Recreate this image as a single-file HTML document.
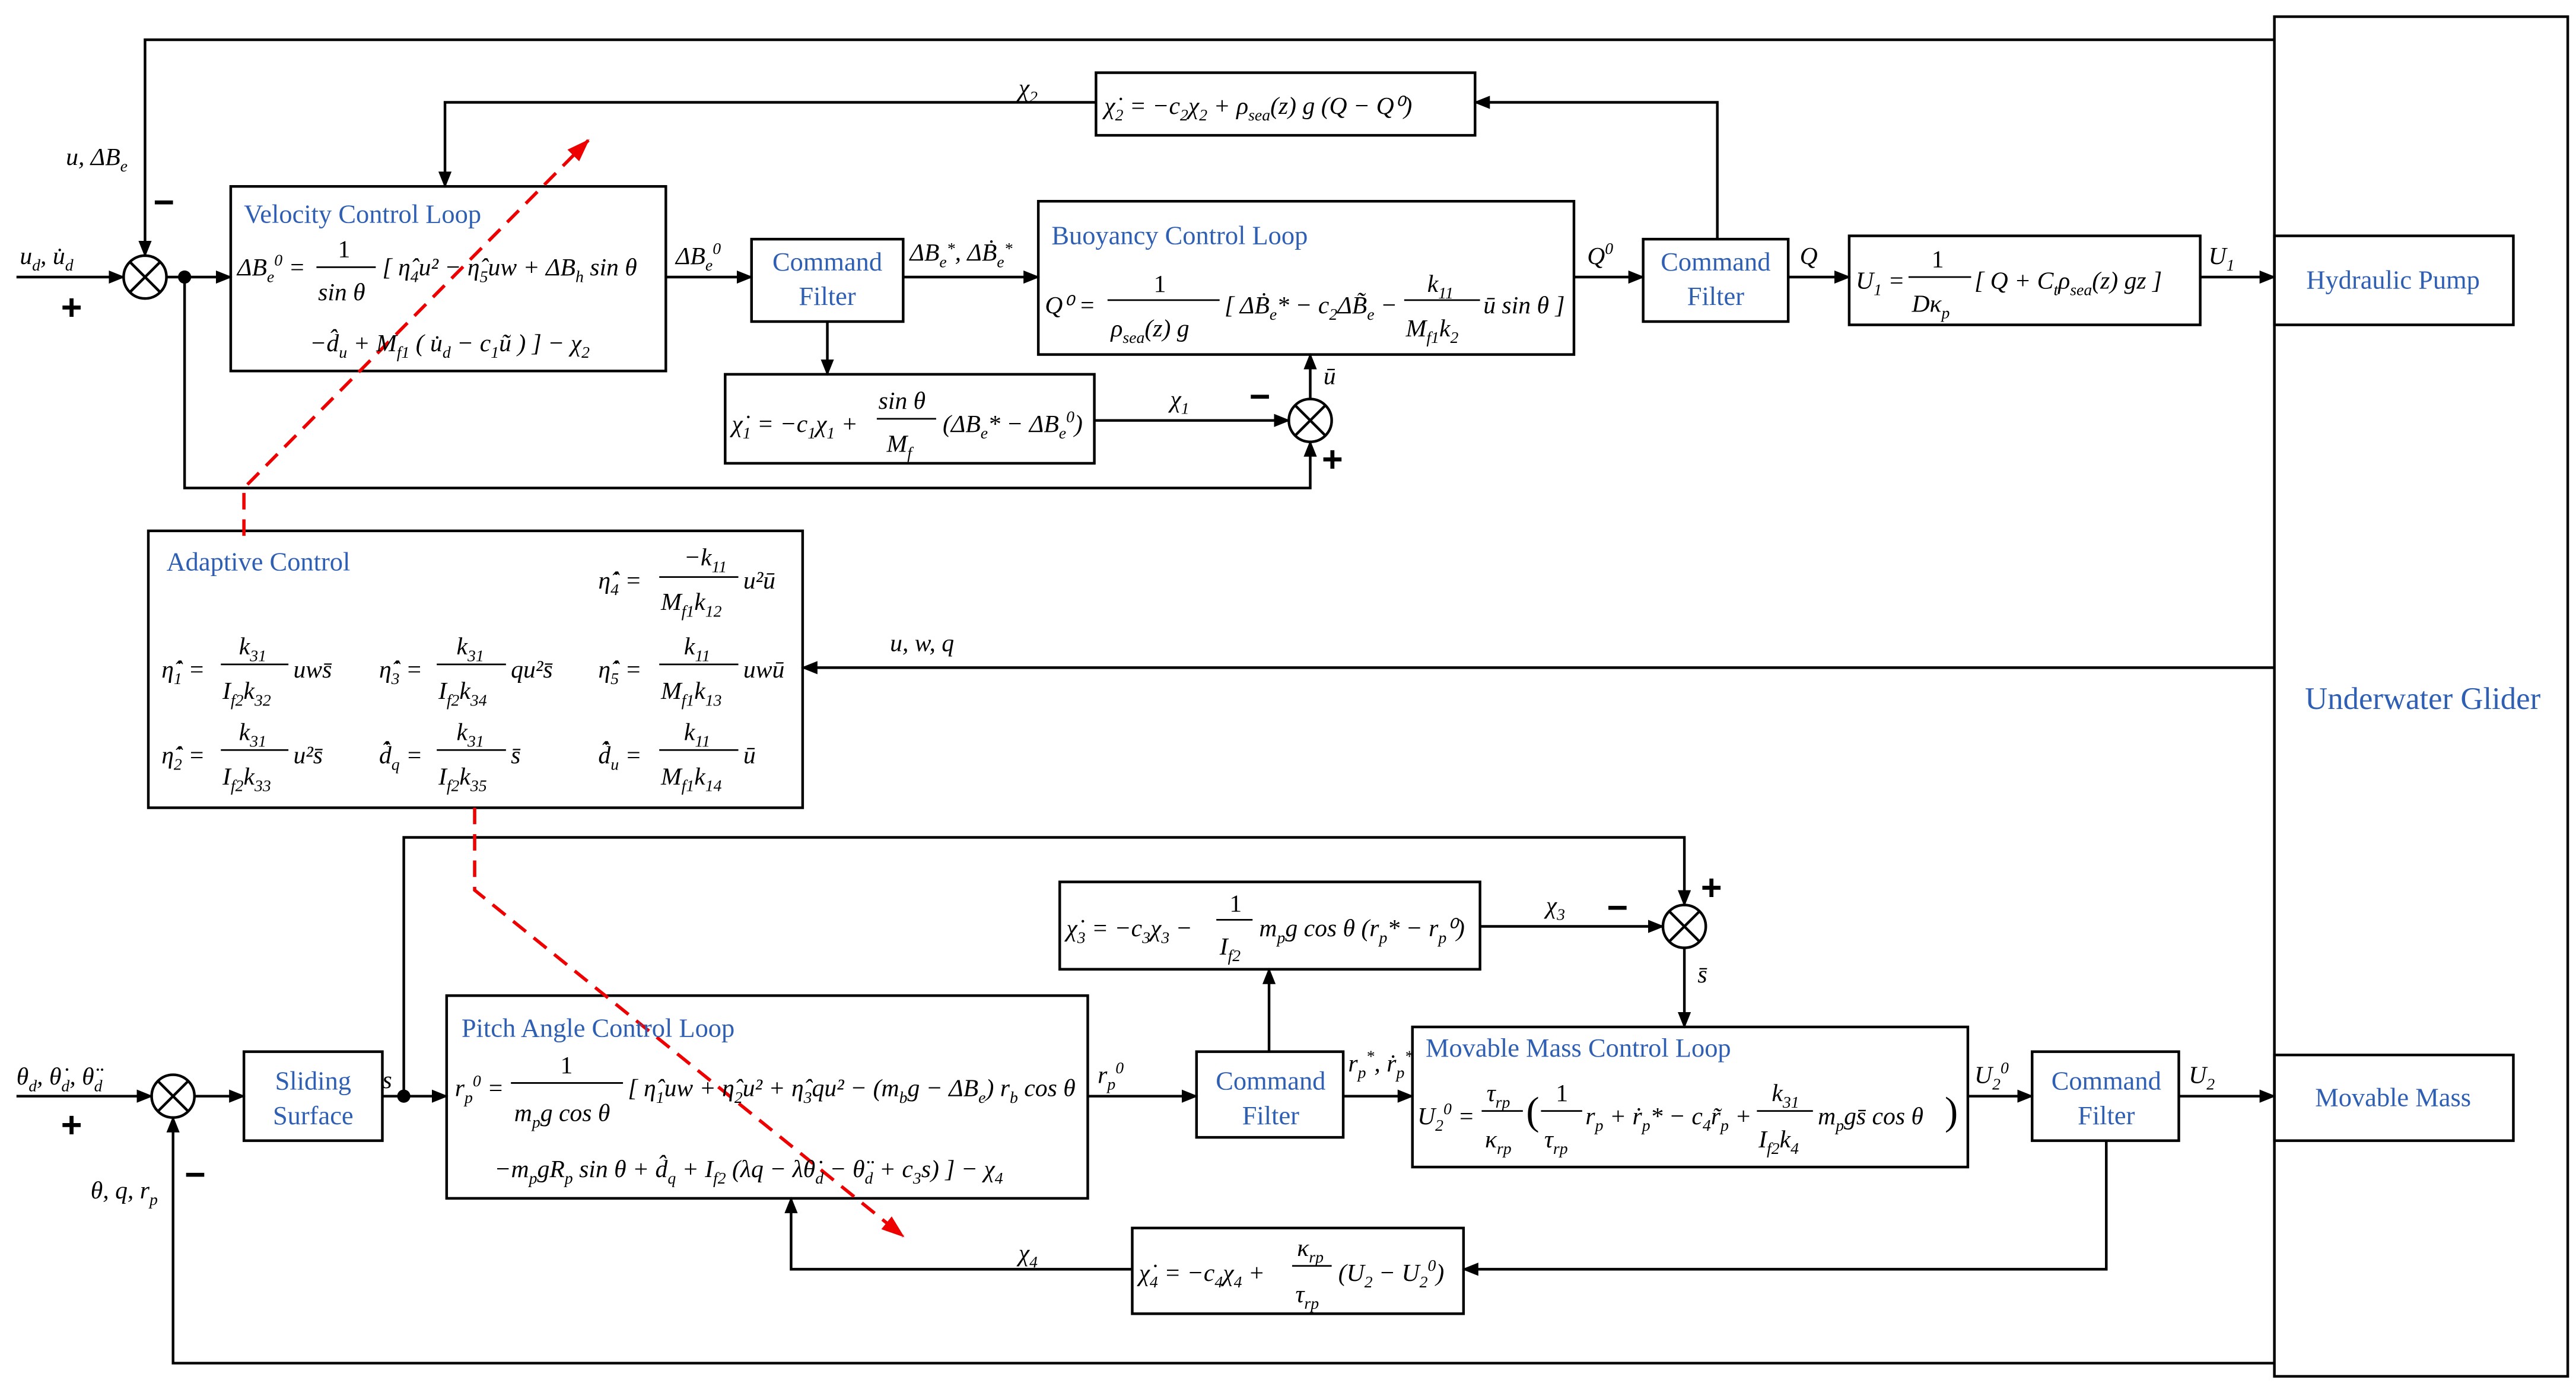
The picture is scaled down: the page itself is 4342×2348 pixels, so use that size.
<!DOCTYPE html>
<html><head><meta charset="utf-8"><style>
html,body{margin:0;padding:0;background:#fff;}
svg{display:block}
text{font-family:"Liberation Serif",serif;font-size:15px;fill:#000}
.b{fill:#2f5fb3;font-size:16px}
.i{font-style:italic}
.s{font-size:10px}
</style></head><body>
<svg width="4342" height="2348" viewBox="0 0 1563 845" xmlns="http://www.w3.org/2000/svg">
<defs><marker id="a" markerWidth="10" markerHeight="8" refX="9" refY="4" orient="auto" markerUnits="userSpaceOnUse"><path d="M0,0L10,4L0,8z" fill="#000"/></marker>
<marker id="r" markerWidth="14" markerHeight="10" refX="13" refY="5" orient="auto" markerUnits="userSpaceOnUse"><path d="M0,0L14,5L0,10z" fill="#e00"/></marker></defs>
<g fill="none" stroke="#000" stroke-width="1.6">
<!-- boxes -->
<rect x="1380" y="10" width="178" height="825"/>
<rect x="1380" y="143" width="145" height="54"/>
<rect x="1380" y="640" width="145" height="52"/>
<rect x="140" y="113" width="264" height="112"/>
<rect x="456" y="145" width="92" height="50"/>
<rect x="630" y="122" width="325" height="93"/>
<rect x="440" y="227" width="224" height="54"/>
<rect x="997" y="145" width="88" height="50"/>
<rect x="1122" y="143" width="213" height="54"/>
<rect x="665" y="44" width="230" height="38"/>
<rect x="90" y="322" width="397" height="168"/>
<rect x="643" y="535" width="255" height="53"/>
<rect x="148" y="638" width="84" height="54"/>
<rect x="271" y="604" width="389" height="123"/>
<rect x="726" y="638" width="89" height="52"/>
<rect x="857" y="623" width="337" height="85"/>
<rect x="1233" y="638" width="89" height="54"/>
<rect x="687" y="745" width="201" height="52"/>
<!-- sums -->
<circle cx="88" cy="168" r="13"/><path d="M79,159L97,177M97,159L79,177"/>
<circle cx="795" cy="255" r="13"/><path d="M786,246L804,264M804,246L786,264"/>
<circle cx="1022" cy="562" r="13"/><path d="M1013,553L1031,571M1031,553L1013,571"/>
<circle cx="105" cy="665" r="13"/><path d="M96,656L114,674M114,656L96,674"/>
<!-- top lines -->
<path d="M1380,24H88V155" marker-end="url(#a)"/>
<path d="M10,168H75" marker-end="url(#a)"/>
<path d="M101,168H140" marker-end="url(#a)"/>
<path d="M112,168V296H795V268" marker-end="url(#a)"/>
<path d="M404,168H456" marker-end="url(#a)"/>
<path d="M548,168H630" marker-end="url(#a)"/>
<path d="M502,195V227" marker-end="url(#a)"/>
<path d="M664,255H782" marker-end="url(#a)"/>
<path d="M795,242V215" marker-end="url(#a)"/>
<path d="M955,168H997" marker-end="url(#a)"/>
<path d="M1085,168H1122" marker-end="url(#a)"/>
<path d="M1335,168H1380" marker-end="url(#a)"/>
<path d="M1042,145V62H895" marker-end="url(#a)"/>
<path d="M665,62H270V113" marker-end="url(#a)"/>
<path d="M1380,405H487" marker-end="url(#a)"/>
<!-- bottom lines -->
<path d="M245,665V508H1022V549" marker-end="url(#a)"/>
<path d="M898,562H1009" marker-end="url(#a)"/>
<path d="M1022,575V623" marker-end="url(#a)"/>
<path d="M770,638V588" marker-end="url(#a)"/>
<path d="M10,665H92" marker-end="url(#a)"/>
<path d="M118,665H148" marker-end="url(#a)"/>
<path d="M232,665H271" marker-end="url(#a)"/>
<path d="M660,665H726" marker-end="url(#a)"/>
<path d="M815,665H857" marker-end="url(#a)"/>
<path d="M1194,665H1233" marker-end="url(#a)"/>
<path d="M1322,665H1380" marker-end="url(#a)"/>
<path d="M1278,692V770H888" marker-end="url(#a)"/>
<path d="M687,770H480V727" marker-end="url(#a)"/>
<path d="M1380,827H105V678" marker-end="url(#a)"/>
</g>
<circle cx="112" cy="168" r="4"/><circle cx="245" cy="665" r="4"/>
<g fill="none" stroke="#e00" stroke-width="2" stroke-dasharray="10,6">
<path d="M148,325V296L357,85" marker-end="url(#r)"/>
<path d="M288,490V540L548,750" marker-end="url(#r)"/>
</g>
<!-- signs -->
<g font-weight="bold" font-family="Liberation Sans,sans-serif">
<text x="93" y="130" style="font-size:22px;font-family:Liberation Sans">−</text>
<text x="37" y="194" style="font-size:22px;font-family:Liberation Sans">+</text>
<text x="758" y="248" style="font-size:22px;font-family:Liberation Sans">−</text>
<text x="802" y="286" style="font-size:22px;font-family:Liberation Sans">+</text>
<text x="1032" y="546" style="font-size:22px;font-family:Liberation Sans">+</text>
<text x="975" y="558" style="font-size:22px;font-family:Liberation Sans">−</text>
<text x="37" y="690" style="font-size:22px;font-family:Liberation Sans">+</text>
<text x="112" y="720" style="font-size:22px;font-family:Liberation Sans">−</text>
</g>
<!-- blue labels -->
<text class="b" x="1470" y="430" text-anchor="middle" style="font-size:19px">Underwater Glider</text>
<text class="b" x="1452" y="175" text-anchor="middle">Hydraulic Pump</text>
<text class="b" x="1452" y="671" text-anchor="middle">Movable Mass</text>
<text class="b" x="148" y="135">Velocity Control Loop</text>
<text class="b" x="502" y="164" text-anchor="middle">Command</text><text class="b" x="502" y="185" text-anchor="middle">Filter</text>
<text class="b" x="638" y="148">Buoyancy Control Loop</text>
<text class="b" x="1041" y="164" text-anchor="middle">Command</text><text class="b" x="1041" y="185" text-anchor="middle">Filter</text>
<text class="b" x="101" y="346">Adaptive Control</text>
<text class="b" x="190" y="661" text-anchor="middle">Sliding</text><text class="b" x="190" y="682" text-anchor="middle">Surface</text>
<text class="b" x="280" y="629">Pitch Angle Control Loop</text>
<text class="b" x="771" y="661" text-anchor="middle">Command</text><text class="b" x="771" y="682" text-anchor="middle">Filter</text>
<text class="b" x="865" y="641">Movable Mass Control Loop</text>
<text class="b" x="1278" y="661" text-anchor="middle">Command</text><text class="b" x="1278" y="682" text-anchor="middle">Filter</text>
<!-- signal labels -->
<text class="i" x="40" y="100">u, ΔB<tspan class="s" dy="4">e</tspan></text>
<text class="i" x="12" y="160">u<tspan class="s" dy="4">d</tspan><tspan dy="-4">, u̇</tspan><tspan class="s" dy="4">d</tspan></text>
<text class="i" x="410" y="160">ΔB<tspan class="s" dy="4">e</tspan><tspan class="s" dy="-10">0</tspan></text>
<text class="i" x="552" y="158">ΔB<tspan class="s" dy="4">e</tspan><tspan class="s" dy="-8">*</tspan><tspan dy="4">, ΔḂ</tspan><tspan class="s" dy="4">e</tspan><tspan class="s" dy="-8">*</tspan></text>
<text class="i" x="710" y="247">χ<tspan class="s" dy="4">1</tspan></text>
<text class="i" x="803" y="233">ū</text>
<text class="i" x="618" y="58">χ<tspan class="s" dy="4">2</tspan></text>
<text class="i" x="963" y="160">Q<tspan class="s" dy="-6">0</tspan></text>
<text class="i" x="1092" y="160">Q</text>
<text class="i" x="1340" y="160">U<tspan class="s" dy="4">1</tspan></text>
<text class="i" x="540" y="395">u, w, q</text>
<text class="i" x="938" y="554">χ<tspan class="s" dy="4">3</tspan></text>
<text class="i" x="1030" y="596">s̄</text>
<text class="i" x="10" y="658">θ<tspan class="s" dy="4">d</tspan><tspan dy="-4">, θ̇</tspan><tspan class="s" dy="4">d</tspan><tspan dy="-4">, θ̈</tspan><tspan class="s" dy="4">d</tspan></text>
<text class="i" x="232" y="660">s</text>
<text class="i" x="666" y="657">r<tspan class="s" dy="4">p</tspan><tspan class="s" dy="-10">0</tspan></text>
<text class="i" x="818" y="650">r<tspan class="s" dy="4">p</tspan><tspan class="s" dy="-10">*</tspan><tspan dy="6">, ṙ</tspan><tspan class="s" dy="4">p</tspan><tspan class="s" dy="-10">*</tspan></text>
<text class="i" x="1198" y="657">U<tspan class="s" dy="4">2</tspan><tspan class="s" dy="-10">0</tspan></text>
<text class="i" x="1328" y="657">U<tspan class="s" dy="4">2</tspan></text>
<text class="i" x="618" y="765">χ<tspan class="s" dy="4">4</tspan></text>
<text class="i" x="55" y="727">θ, q, r<tspan class="s" dy="4">p</tspan></text>
<!-- formulas -->
<text class="i" x="144" y="167">ΔB<tspan class="s" dy="4">e</tspan><tspan class="s" dy="-10">0</tspan><tspan dy="6"> = </tspan></text>
<text x="205" y="156">1</text><path d="M192,162H228" stroke="#000"/><text class="i" x="193" y="182">sin θ</text>
<text class="i" x="232" y="167">[ η̂<tspan class="s" dy="4">4</tspan><tspan dy="-4">u² − η̂</tspan><tspan class="s" dy="4">5</tspan><tspan dy="-4">uw + ΔB</tspan><tspan class="s" dy="4">h</tspan><tspan dy="-4"> sin θ</tspan></text>
<text class="i" x="188" y="213">−d̂<tspan class="s" dy="4">u</tspan><tspan dy="-4"> + M</tspan><tspan class="s" dy="4">f1</tspan><tspan dy="-4"> ( u̇</tspan><tspan class="s" dy="4">d</tspan><tspan dy="-4"> − c</tspan><tspan class="s" dy="4">1</tspan><tspan dy="-4">ũ ) ] − χ</tspan><tspan class="s" dy="4">2</tspan></text>
<text class="i" x="670" y="69">χ̇<tspan class="s" dy="4">2</tspan><tspan dy="-4"> = −c</tspan><tspan class="s" dy="4">2</tspan><tspan dy="-4">χ</tspan><tspan class="s" dy="4">2</tspan><tspan dy="-4"> + ρ</tspan><tspan class="s" dy="4">sea</tspan><tspan dy="-4">(z) g (Q − Q⁰)</tspan></text>
<text class="i" x="634" y="190">Q⁰ = </text>
<text x="700" y="177">1</text><path d="M672,182H740" stroke="#000"/><text class="i" x="674" y="204">ρ<tspan class="s" dy="4">sea</tspan><tspan dy="-4">(z) g</tspan></text>
<text class="i" x="743" y="190">[ ΔḂ<tspan class="s" dy="4">e</tspan><tspan dy="-4">* − c</tspan><tspan class="s" dy="4">2</tspan><tspan dy="-4">ΔB̃</tspan><tspan class="s" dy="4">e</tspan><tspan dy="-4"> − </tspan></text>
<text class="i" x="866" y="177">k<tspan class="s" dy="4">11</tspan></text><path d="M852,182H898" stroke="#000"/><text class="i" x="853" y="204">M<tspan class="s" dy="4">f1</tspan><tspan dy="-4">k</tspan><tspan class="s" dy="4">2</tspan></text>
<text class="i" x="900" y="190">ū sin θ ]</text>
<text class="i" x="444" y="262">χ̇<tspan class="s" dy="4">1</tspan><tspan dy="-4"> = −c</tspan><tspan class="s" dy="4">1</tspan><tspan dy="-4">χ</tspan><tspan class="s" dy="4">1</tspan><tspan dy="-4"> + </tspan></text>
<text class="i" x="533" y="248">sin θ</text><path d="M532,254H568" stroke="#000"/><text class="i" x="538" y="274">M<tspan class="s" dy="4">f</tspan></text>
<text class="i" x="572" y="262">(ΔB<tspan class="s" dy="4">e</tspan><tspan dy="-4">* − ΔB</tspan><tspan class="s" dy="4">e</tspan><tspan class="s" dy="-10">0</tspan><tspan dy="6">)</tspan></text>
<text class="i" x="1126" y="175">U<tspan class="s" dy="4">1</tspan><tspan dy="-4"> = </tspan></text>
<text x="1172" y="162">1</text><path d="M1158,168H1196" stroke="#000"/><text class="i" x="1160" y="189">Dκ<tspan class="s" dy="4">p</tspan></text>
<text class="i" x="1198" y="175">[ Q + C<tspan class="s" dy="4">t</tspan><tspan dy="-4">ρ</tspan><tspan class="s" dy="4">sea</tspan><tspan dy="-4">(z) gz ]</tspan></text>
<!-- adaptive -->
<g class="i">
<text class="i" x="363" y="357">η̂̇<tspan class="s" dy="4">4</tspan><tspan dy="-4"> = </tspan></text><text class="i" x="415" y="343">−k<tspan class="s" dy="4">11</tspan></text><path d="M400,350H448" stroke="#000"/><text class="i" x="401" y="370">M<tspan class="s" dy="4">f1</tspan><tspan dy="-4">k</tspan><tspan class="s" dy="4">12</tspan></text><text class="i" x="451" y="357">u²ū</text>
<text class="i" x="98" y="411">η̂̇<tspan class="s" dy="4">1</tspan><tspan dy="-4"> = </tspan></text><text class="i" x="145" y="397">k<tspan class="s" dy="4">31</tspan></text><path d="M134,403H175" stroke="#000"/><text class="i" x="135" y="424">I<tspan class="s" dy="4">f2</tspan><tspan dy="-4">k</tspan><tspan class="s" dy="4">32</tspan></text><text class="i" x="178" y="411">uws̄</text>
<text class="i" x="230" y="411">η̂̇<tspan class="s" dy="4">3</tspan><tspan dy="-4"> = </tspan></text><text class="i" x="277" y="397">k<tspan class="s" dy="4">31</tspan></text><path d="M265,403H307" stroke="#000"/><text class="i" x="266" y="424">I<tspan class="s" dy="4">f2</tspan><tspan dy="-4">k</tspan><tspan class="s" dy="4">34</tspan></text><text class="i" x="310" y="411">qu²s̄</text>
<text class="i" x="363" y="411">η̂̇<tspan class="s" dy="4">5</tspan><tspan dy="-4"> = </tspan></text><text class="i" x="415" y="397">k<tspan class="s" dy="4">11</tspan></text><path d="M400,403H448" stroke="#000"/><text class="i" x="401" y="424">M<tspan class="s" dy="4">f1</tspan><tspan dy="-4">k</tspan><tspan class="s" dy="4">13</tspan></text><text class="i" x="451" y="411">uwū</text>
<text class="i" x="98" y="463">η̂̇<tspan class="s" dy="4">2</tspan><tspan dy="-4"> = </tspan></text><text class="i" x="145" y="449">k<tspan class="s" dy="4">31</tspan></text><path d="M134,455H175" stroke="#000"/><text class="i" x="135" y="476">I<tspan class="s" dy="4">f2</tspan><tspan dy="-4">k</tspan><tspan class="s" dy="4">33</tspan></text><text class="i" x="178" y="463">u²s̄</text>
<text class="i" x="230" y="463">d̂̇<tspan class="s" dy="4">q</tspan><tspan dy="-4"> = </tspan></text><text class="i" x="277" y="449">k<tspan class="s" dy="4">31</tspan></text><path d="M265,455H307" stroke="#000"/><text class="i" x="266" y="476">I<tspan class="s" dy="4">f2</tspan><tspan dy="-4">k</tspan><tspan class="s" dy="4">35</tspan></text><text class="i" x="310" y="463">s̄</text>
<text class="i" x="363" y="463">d̂̇<tspan class="s" dy="4">u</tspan><tspan dy="-4"> = </tspan></text><text class="i" x="415" y="449">k<tspan class="s" dy="4">11</tspan></text><path d="M400,455H448" stroke="#000"/><text class="i" x="401" y="476">M<tspan class="s" dy="4">f1</tspan><tspan dy="-4">k</tspan><tspan class="s" dy="4">14</tspan></text><text class="i" x="451" y="463">ū</text>
</g>
<!-- chi3 -->
<text class="i" x="647" y="568">χ̇<tspan class="s" dy="4">3</tspan><tspan dy="-4"> = −c</tspan><tspan class="s" dy="4">3</tspan><tspan dy="-4">χ</tspan><tspan class="s" dy="4">3</tspan><tspan dy="-4"> − </tspan></text>
<text x="746" y="553">1</text><path d="M738,558H760" stroke="#000"/><text class="i" x="740" y="579">I<tspan class="s" dy="4">f2</tspan></text>
<text class="i" x="764" y="568">m<tspan class="s" dy="4">p</tspan><tspan dy="-4">g cos θ (r</tspan><tspan class="s" dy="4">p</tspan><tspan dy="-4">* − r</tspan><tspan class="s" dy="4">p</tspan><tspan dy="-4">⁰)</tspan></text>
<!-- pitch -->
<text class="i" x="276" y="665">r<tspan class="s" dy="4">p</tspan><tspan class="s" dy="-10">0</tspan><tspan dy="6"> = </tspan></text>
<text x="340" y="651">1</text><path d="M310,657H378" stroke="#000"/><text class="i" x="312" y="680">m<tspan class="s" dy="4">p</tspan><tspan dy="-4">g cos θ</tspan></text>
<text class="i" x="381" y="665">[ η̂<tspan class="s" dy="4">1</tspan><tspan dy="-4">uw + η̂</tspan><tspan class="s" dy="4">2</tspan><tspan dy="-4">u² + η̂</tspan><tspan class="s" dy="4">3</tspan><tspan dy="-4">qu² − (m</tspan><tspan class="s" dy="4">b</tspan><tspan dy="-4">g − ΔB</tspan><tspan class="s" dy="4">e</tspan><tspan dy="-4">) r</tspan><tspan class="s" dy="4">b</tspan><tspan dy="-4"> cos θ</tspan></text>
<text class="i" x="300" y="714">−m<tspan class="s" dy="4">p</tspan><tspan dy="-4">gR</tspan><tspan class="s" dy="4">p</tspan><tspan dy="-4"> sin θ + d̂</tspan><tspan class="s" dy="4">q</tspan><tspan dy="-4"> + I</tspan><tspan class="s" dy="4">f2</tspan><tspan dy="-4"> (λq − λθ̇</tspan><tspan class="s" dy="4">d</tspan><tspan dy="-4"> − θ̈</tspan><tspan class="s" dy="4">d</tspan><tspan dy="-4"> + c</tspan><tspan class="s" dy="4">3</tspan><tspan dy="-4">s) ] − χ</tspan><tspan class="s" dy="4">4</tspan></text>
<!-- mm -->
<text class="i" x="860" y="682">U<tspan class="s" dy="4">2</tspan><tspan class="s" dy="-10">0</tspan><tspan dy="6"> = </tspan></text>
<text class="i" x="902" y="668">τ<tspan class="s" dy="4">rp</tspan></text><path d="M899,674H924" stroke="#000"/><text class="i" x="901" y="696">κ<tspan class="s" dy="4">rp</tspan></text>
<text x="926" y="682" style="font-size:24px">(</text>
<text x="944" y="668">1</text><path d="M935,674H960" stroke="#000"/><text class="i" x="937" y="696">τ<tspan class="s" dy="4">rp</tspan></text>
<text class="i" x="962" y="682">r<tspan class="s" dy="4">p</tspan><tspan dy="-4"> + ṙ</tspan><tspan class="s" dy="4">p</tspan><tspan dy="-4">* − c</tspan><tspan class="s" dy="4">4</tspan><tspan dy="-4">r̃</tspan><tspan class="s" dy="4">p</tspan><tspan dy="-4"> + </tspan></text>
<text class="i" x="1075" y="668">k<tspan class="s" dy="4">31</tspan></text><path d="M1066,674H1100" stroke="#000"/><text class="i" x="1067" y="696">I<tspan class="s" dy="4">f2</tspan><tspan dy="-4">k</tspan><tspan class="s" dy="4">4</tspan></text>
<text class="i" x="1103" y="682">m<tspan class="s" dy="4">p</tspan><tspan dy="-4">gs̄ cos θ</tspan></text><text x="1180" y="682" style="font-size:24px">)</text>
<!-- chi4 -->
<text class="i" x="691" y="777">χ̇<tspan class="s" dy="4">4</tspan><tspan dy="-4"> = −c</tspan><tspan class="s" dy="4">4</tspan><tspan dy="-4">χ</tspan><tspan class="s" dy="4">4</tspan><tspan dy="-4"> + </tspan></text>
<text class="i" x="787" y="762">κ<tspan class="s" dy="4">rp</tspan></text><path d="M784,768H808" stroke="#000"/><text class="i" x="786" y="790">τ<tspan class="s" dy="4">rp</tspan></text>
<text class="i" x="812" y="777">(U<tspan class="s" dy="4">2</tspan><tspan dy="-4"> − U</tspan><tspan class="s" dy="4">2</tspan><tspan class="s" dy="-10">0</tspan><tspan dy="6">)</tspan></text>
</svg>
</body></html>
